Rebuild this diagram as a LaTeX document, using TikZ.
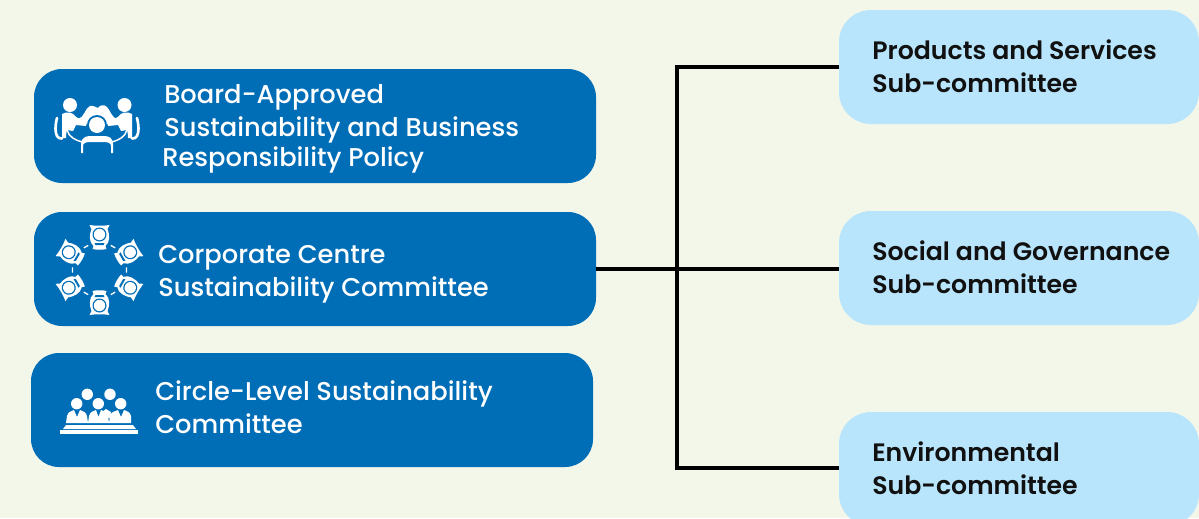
\documentclass[tikz,border=0pt]{standalone}
\usepackage{fontspec}
\newfontfamily\whitefont{Poppins Medium}
\newfontfamily\darkfont{Poppins SemiBold}
\definecolor{bgc}{HTML}{F3F7EA}
\definecolor{deepblue}{HTML}{006DB7}
\definecolor{paleblue}{HTML}{B9E5FC}
\definecolor{inkc}{HTML}{111111}
\tikzset{
 x=0.75pt,y=-0.75pt,
 mainbox/.style={fill=deepblue,rounded corners=21pt,minimum width=421.5pt,minimum height=85.5pt,inner sep=0pt},
 subbox/.style={fill=paleblue,rounded corners=24pt,minimum width=270pt,minimum height=85.5pt,inner sep=0pt},
 wlabel/.style={anchor=base west,inner sep=0pt,text=white,font=\whitefont\fontsize{19.3}{22}\selectfont},
 dlabel/.style={anchor=base west,inner sep=0pt,text=inkc,font=\darkfont\fontsize{18.9}{22}\selectfont},
 wire/.style={draw=black,line width=2.4pt},
 iconfill/.style={fill=white,draw=none},
 iconline/.style={draw=white,line width=1.1pt,fill=none},
 chairline/.style={draw=white,line width=2pt,fill=none,line cap=round},
}
\begin{document}
\begin{tikzpicture}
\useasboundingbox (0,0) rectangle (1199,518);
\fill[bgc] (0,0) rectangle (1199,518);
\clip (0,0) rectangle (1199,518);
% boxes
\node[mainbox] (board) at (315,126) {};
\node[mainbox] (corp) at (315,269) {};
\node[mainbox] (circle) at (312,410) {};
\node[subbox] (prod) at (1019,67) {};
\node[subbox] (soc) at (1019,268) {};
\node[subbox] (env) at (1019,469) {};
% connectors
\coordinate (trunktop) at (677,67);
\coordinate (trunkbot) at (677,468);
\draw[wire] (corp.east) -- (corp.east -| soc.west);
\draw[wire,line join=miter] (prod.west) -- (trunktop) -- (trunkbot) -- (trunkbot -| env.west);
% labels
\node[wlabel] (t1) at (164,103) {Board-Approved};
\node[wlabel] (t2) at (164,136) {Sustainability and Business};
\node[wlabel] (t3) at (162,166) {Responsibility Policy};
\node[wlabel] (t4) at (158,263) {Corporate Centre};
\node[wlabel] (t5) at (158,296) {Sustainability Committee};
\node[wlabel] (t6) at (155,400) {Circle-Level Sustainability};
\node[wlabel] (t7) at (155,433) {Committee};
\node[dlabel] (t8) at (872,59) {Products and Services};
\node[dlabel] (t9) at (872,92) {Sub-committee};
\node[dlabel] (t10) at (872,260) {Social and Governance};
\node[dlabel] (t11) at (872,293) {Sub-committee};
\node[dlabel] (t12) at (872,461) {Environmental};
\node[dlabel] (t13) at (872,494) {Sub-committee};
% icon 1: meeting
\fill[iconfill] (70,105) circle (7);
\fill[iconfill] (124.5,105) circle (7);
% back person shoulders
\fill[iconfill] (78,119) .. controls (84,118) and (85,108) .. (90,106) .. controls (94,105) and (96,108) .. (98,108) .. controls (100,105) and (104,104) .. (107,107) .. controls (110,110) and (112,118) .. (117,119) -- (108,124) -- (87,124) -- cycle;
% left person
\fill[iconfill] (62,114) .. controls (67,111) and (73,112) .. (76,117) -- (87,122) -- (86,126) -- (76,125) -- (73,131) -- (67,130) .. controls (66,134) and (66,136) .. (66,138) -- (62,138) -- cycle;
\draw[chairline] (57,118) .. controls (55,126) and (55,132) .. (57,136) .. controls (58,138) and (60,138.5) .. (62,138.5);
% right person
\fill[iconfill] (132,114) .. controls (127,111) and (121,112) .. (118,117) -- (107,122) -- (108,126) -- (118,125) -- (121,131) -- (127,130) .. controls (128,134) and (128,136) .. (128,138) -- (132,138) -- cycle;
\draw[chairline] (137,118) .. controls (139,126) and (139,132) .. (137,136) .. controls (136,138) and (134,138.5) .. (132,138.5);
% table arcs
\draw[iconline] (67,130) .. controls (69,137) and (75,140) .. (82,142);
\draw[iconline] (127,130) .. controls (125,137) and (119,140) .. (112,142);
% front person
\fill[deepblue] (97,125) circle (10);
\fill[iconfill] (97,125) circle (8);
\fill[iconfill] (81,153) -- (81,144) .. controls (81,138) and (86,136) .. (90,136) -- (104,136) .. controls (109,136) and (113,138) .. (113,144) -- (113,153) -- (111,153) -- (111,146) .. controls (111,143) and (108,142) .. (104,142) -- (90,142) .. controls (86,142) and (83,143) .. (83,146) -- (83,153) -- cycle;
% icon 2: round table
\foreach \a in {0,60,120,180,240,300}{
 \begin{scope}[shift={(99.5,270)},rotate=\a]
  \fill[iconfill] (-10,-45) .. controls (-4,-44) and (4,-44) .. (10,-45) -- (8,-41) .. controls (10,-36) and (11,-28) .. (6,-24) -- (7,-21) .. controls (3,-20) and (-3,-20) .. (-7,-21) -- (-6,-24) .. controls (-11,-28) and (-10,-36) .. (-8,-41) -- cycle;
  \fill[deepblue] (0,-35.5) circle (7);
  \fill[iconfill] (0,-35.5) circle (5.7);
  \fill[deepblue] (-5,-27) -- (5,-27) -- (4,-25) -- (-4,-25) -- cycle;
  \draw[draw=white,line width=1pt] (11.3,-24.6) -- (15.7,-22.1);
 \end{scope}
}
% icon 3: panel
\fill[iconfill] (87.3,394.3) circle (5.7);
\fill[iconfill] (110,394.3) circle (5.7);
\fill[iconfill] (102,412) -- (106,409) -- (111,412) -- (111,418) -- (102,418) -- cycle;
\fill[iconfill] (76.7,403.7) circle (5.7);
\fill[iconfill] (98.3,403.7) circle (5.7);
\fill[iconfill] (120.7,403.7) circle (5.7);
\fill[iconfill] (66,423) -- (67,416) .. controls (68,412) and (71,411) .. (74,410) -- (77,417) -- (80,410) .. controls (83,411) and (86,412) .. (87,416) -- (88,423) -- cycle;
\fill[iconfill] (88,423) -- (89,416) .. controls (90,412) and (93,411) .. (96,410) -- (98.5,417) -- (101,410) .. controls (104,411) and (107,412) .. (108,416) -- (109,423) -- cycle;
\fill[iconfill] (109,423) -- (110,416) .. controls (111,412) and (115,411) .. (118,410) -- (121,417) -- (124,410) .. controls (127,411) and (130,412) .. (131,416) -- (131,423) -- cycle;
\fill[iconfill] (66,425) -- (133,425) -- (136,429) -- (63,429) -- cycle;
\fill[iconfill] (60,430) -- (138,430) -- (138,433.5) -- (60,433.5) -- cycle;
\end{tikzpicture}
\end{document}
